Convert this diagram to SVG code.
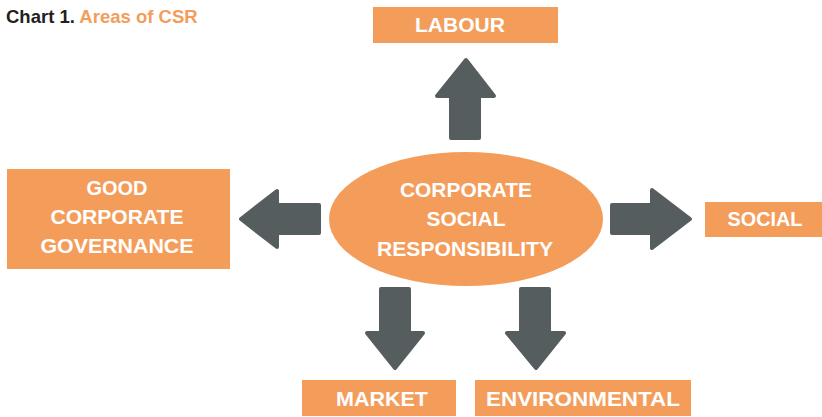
<svg xmlns="http://www.w3.org/2000/svg" width="822" height="417" viewBox="0 0 822 417">
<style>
.box{fill:#F49D5B}
.lbl{font-family:"Liberation Sans",Arial,sans-serif;font-weight:bold;font-size:20px;fill:#FFFFFF;text-anchor:middle}
.arr{fill:#555D5E;stroke:#555D5E;stroke-width:4;stroke-linejoin:round}
.title{font-family:"Liberation Sans",Arial,sans-serif;font-weight:bold;font-size:18.5px}
</style>
<rect width="822" height="417" fill="#FFFFFF"/>
<text class="title" x="6" y="23"><tspan fill="#231F20">Chart 1.</tspan> <tspan fill="#F49D5B">Areas of CSR</tspan></text>
<g id="connectors">
<polygon class="arr" points="466,60 494,96 479,96 479,138 451,138 451,96 437,96"/>
<polygon class="arr" points="241,219 277,191 277,205 319,205 319,233 277,233 277,247"/>
<polygon class="arr" points="612,205 652,205 652,190 690,219 652,248 652,233 612,233"/>
<polygon class="arr" points="381,289 409,289 409,333 423,333 395,368 367,333 381,333"/>
<polygon class="arr" points="521,289 549,289 549,333 564,333 536,368 507,333 521,333"/>
</g>
<g id="csr">
<ellipse class="box" cx="466" cy="219" rx="137" ry="67"/>
<text class="lbl" x="466" y="197" textLength="132" lengthAdjust="spacingAndGlyphs">CORPORATE</text>
<text class="lbl" x="466" y="226" textLength="79" lengthAdjust="spacingAndGlyphs">SOCIAL</text>
<text class="lbl" x="465" y="256" textLength="176" lengthAdjust="spacingAndGlyphs">RESPONSIBILITY</text>
</g>
<g id="labour">
<rect class="box" x="373" y="7" width="185" height="36"/>
<text class="lbl" x="460" y="32" textLength="90" lengthAdjust="spacingAndGlyphs">LABOUR</text>
</g>
<g id="governance">
<rect class="box" x="7" y="169" width="223" height="100"/>
<text class="lbl" x="117" y="195" textLength="61" lengthAdjust="spacingAndGlyphs">GOOD</text>
<text class="lbl" x="117" y="224" textLength="133" lengthAdjust="spacingAndGlyphs">CORPORATE</text>
<text class="lbl" x="117" y="253" textLength="153" lengthAdjust="spacingAndGlyphs">GOVERNANCE</text>
</g>
<g id="social">
<rect class="box" x="705" y="202" width="117" height="35"/>
<text class="lbl" x="765" y="226" textLength="75" lengthAdjust="spacingAndGlyphs">SOCIAL</text>
</g>
<g id="market">
<rect class="box" x="302" y="380" width="154" height="36"/>
<text class="lbl" x="382" y="406" textLength="92" lengthAdjust="spacingAndGlyphs">MARKET</text>
</g>
<g id="environmental">
<rect class="box" x="475" y="380" width="216" height="36"/>
<text class="lbl" x="583" y="406" textLength="194" lengthAdjust="spacingAndGlyphs">ENVIRONMENTAL</text>
</g>
</svg>
